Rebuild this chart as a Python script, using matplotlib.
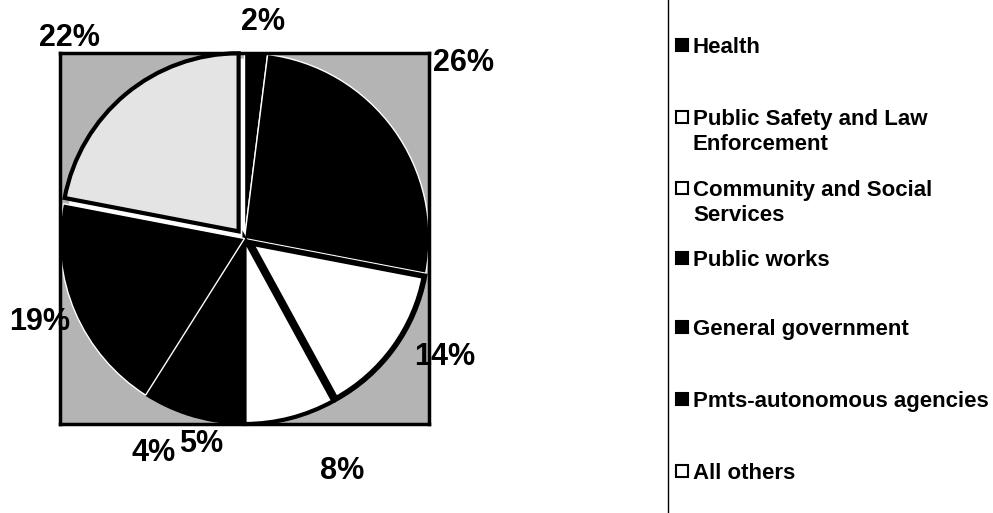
import matplotlib
matplotlib.use('Agg')
import matplotlib.pyplot as plt
import numpy as np
from matplotlib.patches import Rectangle, Circle
from matplotlib.lines import Line2D

plt.rcParams['font.family'] = ['Liberation Sans', 'DejaVu Sans']

# data (first slice has no visible legend entry - cut off in the original)
categories = ['', 'Health', 'Public Safety and Law\nEnforcement',
              'Community and Social\nServices', 'Public works',
              'General government', 'Pmts-autonomous agencies', 'All others']
shares = [2, 26, 14, 8, 5, 4, 19, 22]
slice_colors = ['#000000', '#000000', '#ffffff', '#ffffff',
                '#000000', '#000000', '#000000', '#e4e4e4']

# layout
explode = [0, 0, 0.04, 0, 0, 0, 0, 0.05]
edge_colors = ['white', 'white', 'black', 'black', 'black', 'black', 'white', 'black']
edge_widths = [1, 1, 4, 3, 1, 1, 1, 3]
label_dist = [1.17, 1.52, 1.26, 1.36, 1.13, 1.26, 1.20, 1.44]
label_nudge = [1.2, -2.6, -5.5, -8.4, 3.0, -2.1, 1.3, -1.6]  # deg, clockwise
legend_y = [45, 117, 188, 258, 327, 399, 471]  # px from top, first line
W, H = 993, 513

fig = plt.figure(figsize=(W / 100, H / 100), dpi=100)
ax = fig.add_axes([60 / W, 1 - 424 / H, 369 / W, 371 / H])
ax.set_facecolor('#b4b4b4')
ax.add_patch(Circle((0, 0), 0.97, facecolor='white', edgecolor='none', zorder=0))

wedges, _ = ax.pie(shares, colors=slice_colors, startangle=90, counterclock=False,
                   explode=explode, frame=True)
for w, ec, lw, ex in zip(wedges, edge_colors, edge_widths, explode):
    w.set_edgecolor(ec)
    w.set_linewidth(lw)
    if ex > 0:
        w.set_radius(0.96)

ax.set_aspect('auto')
ax.set_xlim(-1, 1)
ax.set_ylim(-1, 1)
ax.set_xticks([])
ax.set_yticks([])
for s in ax.spines.values():
    s.set_linewidth(2.5)
    s.set_color('black')

# percent labels
for w, v, d, n in zip(wedges, shares, label_dist, label_nudge):
    ang = np.deg2rad((w.theta1 + w.theta2) / 2 - n)
    ax.text(d * np.cos(ang), d * np.sin(ang), f'{v}%', ha='center', va='center',
            fontsize=22, fontweight='bold', clip_on=False)

# legend (drawn by hand, original is cut off at top and bottom)
for name, col, y in zip(categories[1:], slice_colors[1:], legend_y):
    face = 'black' if col == '#000000' else 'white'
    fig.add_artist(Rectangle(((682 - 6) / W, 1 - (y + 6) / H), 12 / W, 12 / H,
                             transform=fig.transFigure, facecolor=face,
                             edgecolor='black', lw=1.5))
    for j, line in enumerate(name.split('\n')):
        fig.text(693 / W, 1 - (y + 8 + 25 * j) / H, line, fontsize=16,
                 fontweight='bold', va='baseline', ha='left')
fig.add_artist(Line2D([668 / W, 668 / W], [0, 1], color='black', lw=1))

fig.savefig('out.png', dpi=100)
